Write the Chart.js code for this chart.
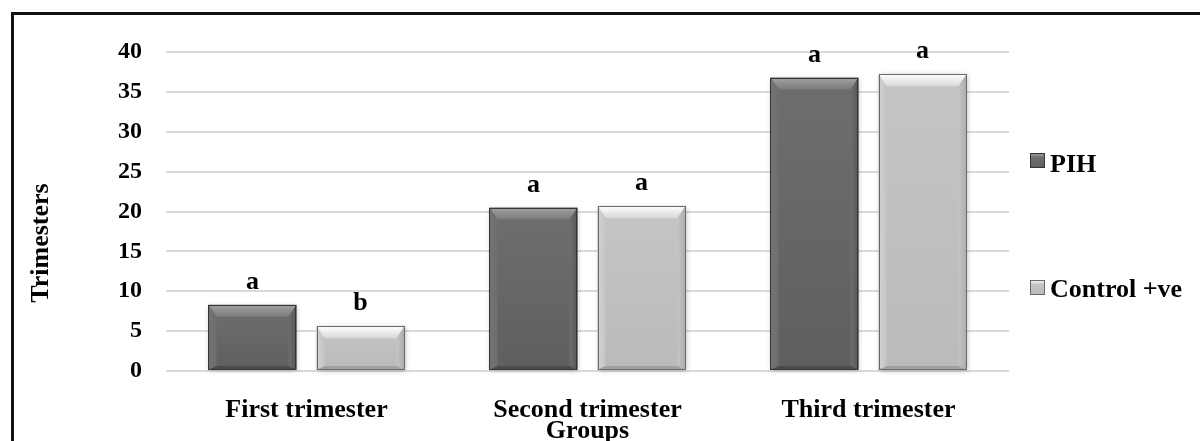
<!DOCTYPE html>
<html>
<head>
<meta charset="utf-8">
<script src="https://cdn.jsdelivr.net/npm/chart.js@4.4.1/dist/chart.umd.min.js"></script>
<style>
  html, body { margin: 0; padding: 0; background: #ffffff; }
  #wrap { position: relative; width: 1200px; height: 441px; overflow: hidden; }
  #frame { position: absolute; left: 11px; top: 12px; width: 1400px; height: 600px;
           border-top: 3px solid #111; border-left: 3px solid #111; pointer-events: none; }
</style>
</head>
<body>
<div id="wrap">
  <canvas id="c" width="1200" height="441"></canvas>
  <div id="frame"></div>
</div>
<script>
// ---- data ----
const categories = ["First trimester", "Second trimester", "Third trimester"];
const seriesNames = ["PIH", "Control +ve"];
const pihValues = [8.3, 20.5, 36.8];
const controlValues = [5.6, 20.7, 37.2];
const pihLetters = ["a", "a", "a"];
const controlLetters = ["b", "a", "a"];
const yTicks = [0, 5, 10, 15, 20, 25, 30, 35, 40];
const yTitle = "Trimesters";
const xTitle = "Groups";

const FONT = "'Liberation Serif', 'Times New Roman', serif";

const PAL = [
  { fillTop: '#6e6e6e', fillBot: '#5f5f5f', bevTop: '#a2a2a2', bevTop2: '#7a7a7a', side: '#737373', sideR: '#575757', bottom: '#4c4c4c', border: '#353535' },
  { fillTop: '#c5c5c5', fillBot: '#bababa', bevTop: '#ffffff', bevTop2: '#d8d8d8', side: '#d2d2d2', sideR: '#acacac', bottom: '#a0a0a0', border: '#6a6a6a' }
];

function poly(ctx, pts, fill) {
  ctx.beginPath();
  ctx.moveTo(pts[0][0], pts[0][1]);
  for (let i = 1; i < pts.length; i++) ctx.lineTo(pts[i][0], pts[i][1]);
  ctx.closePath();
  ctx.fillStyle = fill;
  ctx.fill();
}

const bevelPlugin = {
  id: 'bevel',
  afterDatasetsDraw(chart) {
    const ctx = chart.ctx;
    ctx.save();
    chart.data.datasets.forEach((ds, di) => {
      const meta = chart.getDatasetMeta(di);
      const p = PAL[di];
      meta.data.forEach((bar, i) => {
        const { x, y, base, width } = bar.getProps(['x', 'y', 'base', 'width'], true);
        const l = x - width / 2, r = x + width / 2, t = y, b = base;
        // soft shadow
        ctx.save();
        ctx.shadowColor = 'rgba(0,0,0,0.25)';
        ctx.shadowBlur = 5;
        ctx.shadowOffsetX = 1;
        ctx.shadowOffsetY = 1;
        const g = ctx.createLinearGradient(0, t, 0, b);
        g.addColorStop(0, p.fillTop); g.addColorStop(1, p.fillBot);
        ctx.fillStyle = g;
        ctx.fillRect(l, t, r - l, b - t);
        ctx.restore();
        const dt = Math.min(12, (b - t) / 3), ds2 = 8, db = 4;
        const gt = ctx.createLinearGradient(0, t, 0, t + dt);
        gt.addColorStop(0, p.bevTop); gt.addColorStop(1, p.bevTop2);
        poly(ctx, [[l, t], [r, t], [r - ds2, t + dt], [l + ds2, t + dt]], gt);
        const gl = ctx.createLinearGradient(l, 0, l + ds2, 0);
        gl.addColorStop(0, p.side); gl.addColorStop(1, p.fillTop);
        poly(ctx, [[l, t], [l + ds2, t + dt], [l + ds2, b - db], [l, b]], gl);
        const gr = ctx.createLinearGradient(r, 0, r - ds2, 0);
        gr.addColorStop(0, p.sideR); gr.addColorStop(1, p.fillTop);
        poly(ctx, [[r, t], [r, b], [r - ds2, b - db], [r - ds2, t + dt]], gr);
        poly(ctx, [[l, b], [l + ds2, b - db], [r - ds2, b - db], [r, b]], p.bottom);
        ctx.strokeStyle = p.border;
        ctx.lineWidth = 1;
        ctx.strokeRect(Math.round(l) + 0.5, Math.round(t) + 0.5, Math.round(r - l) - 1, Math.round(b - t) - 1);
        // letter
        const letters = di === 0 ? pihLetters : controlLetters;
        ctx.fillStyle = '#000';
        ctx.font = "bold 26px " + FONT;
        ctx.textAlign = 'center';
        ctx.textBaseline = 'alphabetic';
        ctx.fillText(letters[i], x, t - 16);
      });
    });
    ctx.restore();
  },
  afterDraw(chart) {
    const ctx = chart.ctx;
    ctx.save();
    // y axis title
    ctx.translate(41, 243);
    ctx.rotate(-Math.PI / 2);
    ctx.fillStyle = '#000';
    ctx.font = "bold 26px " + FONT;
    ctx.textAlign = 'center';
    ctx.textBaseline = 'middle';
    ctx.fillText(yTitle, 0, 0);
    ctx.restore();
    // legend
    ctx.save();
    const items = [{ sy: 153, by: 172 }, { sy: 280, by: 297 }];
    chart.data.datasets.forEach((ds, di) => {
      const p = PAL[di];
      const it = items[di];
      const sx = 1030, s = 15;
      const g = ctx.createLinearGradient(0, it.sy, 0, it.sy + s);
      g.addColorStop(0, p.bevTop); g.addColorStop(0.3, p.fillTop); g.addColorStop(1, p.fillBot);
      ctx.fillStyle = g;
      ctx.fillRect(sx, it.sy, s, s);
      ctx.strokeStyle = p.border;
      ctx.lineWidth = 1;
      ctx.strokeRect(sx + 0.5, it.sy + 0.5, s - 1, s - 1);
      ctx.fillStyle = '#000';
      ctx.font = "bold 26px " + FONT;
      ctx.textAlign = 'left';
      ctx.textBaseline = 'alphabetic';
      ctx.fillText(ds.label, 1050, it.by);
    });
    ctx.restore();
  }
};

new Chart(document.getElementById('c'), {
  type: 'bar',
  data: {
    labels: categories,
    datasets: [
      { label: seriesNames[0], data: pihValues, backgroundColor: 'rgba(0,0,0,0)', borderWidth: 0 },
      { label: seriesNames[1], data: controlValues, backgroundColor: 'rgba(0,0,0,0)', borderWidth: 0 }
    ]
  },
  options: {
    responsive: false,
    animation: false,
    events: [],
    layout: { padding: { top: 52, right: 191, left: 0, bottom: 0 } },
    datasets: { bar: { categoryPercentage: 0.7687, barPercentage: 0.8148 } },
    plugins: { legend: { display: false }, tooltip: { enabled: false } },
    scales: {
      x: {
        grid: { display: false, drawTicks: false },
        border: { display: false },
        ticks: { color: '#000', padding: 24, font: { family: FONT, size: 26, weight: 'bold' }, maxRotation: 0 },
        title: { display: true, text: xTitle, color: '#000', padding: 0, font: { family: FONT, size: 26, weight: 'bold', lineHeight: 0.77 } },
        afterFit(scale) { scale.height = 70; }
      },
      y: {
        min: 0, max: 40,
        afterBuildTicks(scale) { scale.ticks = yTicks.map(v => ({ value: v })); },
        grid: { color: '#d9d9d9', lineWidth: 2, drawTicks: false },
        border: { display: false },
        ticks: { color: '#000', padding: 24, font: { family: FONT, size: 24, weight: 'bold' } },
        afterFit(scale) { scale.width = 166; }
      }
    }
  },
  plugins: [bevelPlugin]
});
</script>
</body>
</html>
